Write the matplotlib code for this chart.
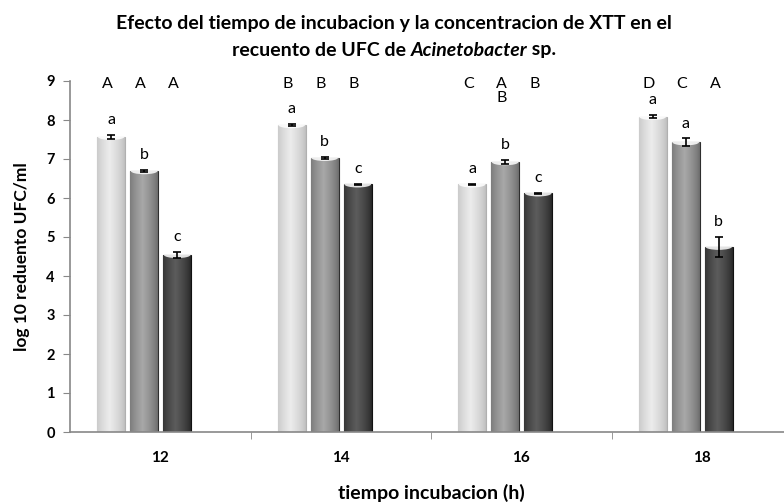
import matplotlib
matplotlib.use('Agg')
import matplotlib.pyplot as plt
from matplotlib.colors import LinearSegmentedColormap
from matplotlib.patches import Ellipse
import numpy as np

# tiempo de incubacion (h)
horas = ['12', '14', '16', '18']

# log10 recuento UFC/ml por concentracion de XTT (3 series)
serie1 = [7.57, 7.87, 6.35, 8.08]
serie2 = [6.69, 7.03, 6.92, 7.43]
serie3 = [4.54, 6.35, 6.12, 4.75]
err1 = [0.05, 0.03, 0.02, 0.04]
err2 = [0.03, 0.02, 0.05, 0.10]
err3 = [0.08, 0.02, 0.02, 0.25]

# letras de significancia
mayus1 = ['A', 'B', 'C', 'D']
mayus2 = ['A', 'B', 'A\nB', 'C']
mayus3 = ['A', 'B', 'B', 'A']
minus1 = ['a', 'a', 'a', 'a']
minus2 = ['b', 'b', 'b', 'a']
minus3 = ['c', 'c', 'c', 'b']

plt.rcParams['font.family'] = ['Lato', 'DejaVu Sans']

fig = plt.figure(figsize=(7.84, 5.03), dpi=100)
ax = fig.add_axes([70 / 784, 71 / 503, 714 / 784, 351 / 503])

x = np.arange(len(horas))
width = 0.155
offsets = [-0.272, -0.089, 0.094]
series = [serie1, serie2, serie3]
errs = [err1, err2, err3]
mayus = [mayus1, mayus2, mayus3]
minus = [minus1, minus2, minus3]
# (borde, centro) del degradado de cada serie
tonos = [('#bdbdbd', '#ececec'), ('#6a6a6a', '#a8a8a8'), ('#262626', '#5c5c5c')]
bordes = ['#b0b0b0', '#2e2e2e', '#111111']

t = np.linspace(0, 1, 60)
perfil = np.clip(1 - np.abs(t - 0.45) / 0.55, 0, 1) ** 0.7

for i, vals in enumerate(series):
    cmap = LinearSegmentedColormap.from_list('g%d' % i, [tonos[i][0], tonos[i][1]])
    bars = ax.bar(x + offsets[i], vals, width, color=tonos[i][1],
                  edgecolor=bordes[i], linewidth=0.8, zorder=2)
    for b in bars:
        bx, by, bw, bh = b.get_x(), b.get_y(), b.get_width(), b.get_height()
        im = ax.imshow(perfil[None, :], extent=[bx, bx + bw, by, by + bh],
                       aspect='auto', cmap=cmap, vmin=0, vmax=1, zorder=2.1)
        im.set_clip_path(b)
        top = Ellipse((bx + bw / 2, by + bh), bw * 0.95, 0.16,
                      facecolor='white', edgecolor='none', alpha=0.85, zorder=2.2)
        ax.add_patch(top)
        top.set_clip_path(b)
    ax.errorbar(x + offsets[i], vals, yerr=errs[i], fmt='none', ecolor='black',
                elinewidth=1.2, capsize=3, capthick=1.2, zorder=3)
    for j, v in enumerate(vals):
        ax.text(x[j] + offsets[i], v + errs[i][j] + 0.38, minus[i][j],
                ha='center', va='center', fontsize=11.5, zorder=4)
        ax.text(x[j] + offsets[i] - 0.02, 9.1, mayus[i][j], ha='center', va='top',
                fontsize=11.5, linespacing=1.0, zorder=4)

ax.set_xlim(-0.5, -0.5 + 714 / 180.5)
ax.set_ylim(0, 9)
ax.set_yticks(range(10))
ax.set_xticks(x)
ax.set_xticklabels(horas)
ax.set_xticks(np.arange(0.5, 3.5, 1), minor=True)
ax.tick_params(axis='x', which='major', length=0, pad=14, labelsize=11)
ax.tick_params(axis='x', which='minor', length=5, color='#888888', direction='out')
ax.tick_params(axis='y', length=5, color='#888888', pad=6, labelsize=10.5)
for lab in ax.get_xticklabels() + ax.get_yticklabels():
    lab.set_fontweight('bold')

for s in ['top', 'right']:
    ax.spines[s].set_visible(False)
for s in ['left', 'bottom']:
    ax.spines[s].set_color('#888888')
    ax.spines[s].set_linewidth(1.2)

ax.set_ylabel('log 10 reduento UFC/ml', fontsize=12.5, fontweight='bold', labelpad=12)
fig.text(431 / 784, 1 - 493 / 503, 'tiempo incubacion (h)', ha='center', va='center',
         fontsize=14, fontweight='bold')
fig.text(394 / 784, 1 - 23 / 503,
         'Efecto del tiempo de incubacion y la concentracion de XTT en el',
         ha='center', va='center', fontsize=14, fontweight='bold')

# segunda linea del titulo con nombre en cursiva
partes = [('recuento de UFC de ', 'normal'), ('Acinetobacter', 'italic'), (' sp.', 'normal')]
renderer = fig.canvas.get_renderer()
textos = []
for txt, estilo in partes:
    tx = fig.text(0, 1 - 50 / 503, txt, ha='left', va='center', fontsize=14,
                  fontweight='bold', style=estilo)
    textos.append(tx)
anchos = [tx.get_window_extent(renderer).width for tx in textos]
x0 = 394 - sum(anchos) / 2
for tx, w in zip(textos, anchos):
    tx.set_x(x0 / 784)
    x0 += w

fig.savefig('out.png', dpi=100)
